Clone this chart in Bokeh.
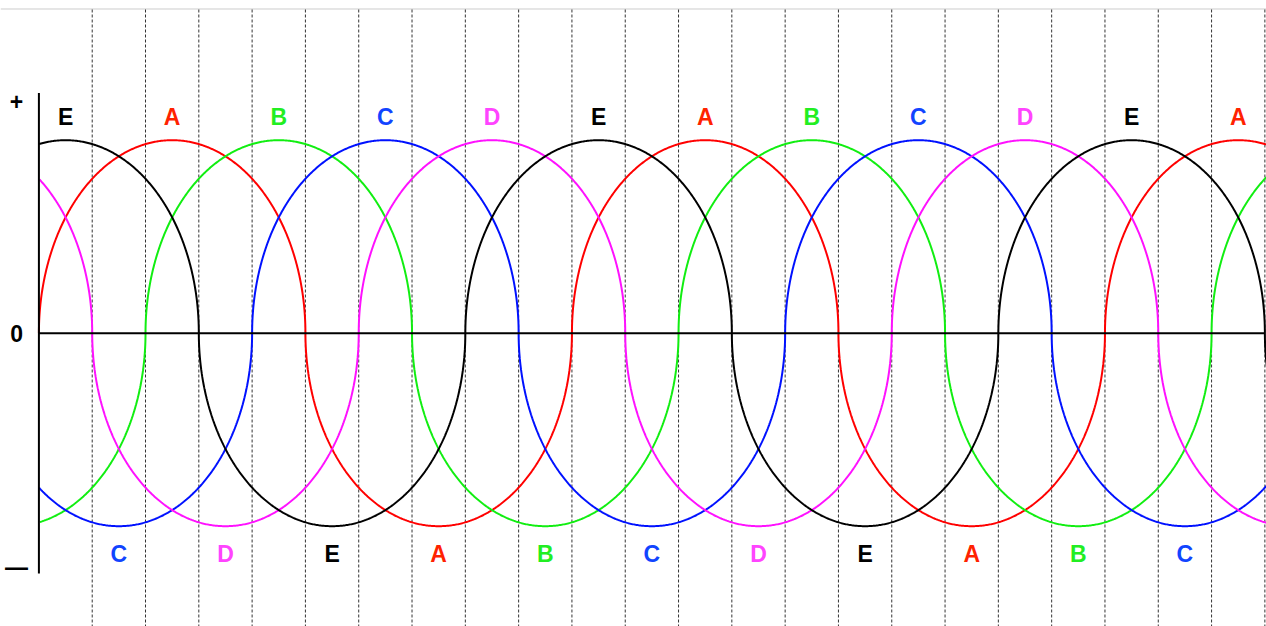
import numpy as np
from bokeh.plotting import figure
from bokeh.models import ColumnDataSource
from bokeh.core.properties import value
from bokeh.embed import file_html
from bokeh.resources import INLINE

# ---- data ----
phase_names = ["A", "B", "C", "D", "E"]
phase_shift_deg = [0, 72, 144, 216, 288]          # rising zero crossing of each phase
curve_colors = ["#ff0000", "#11ee11", "#0011ff", "#ff11ff", "#000000"]
label_colors = {"A": "#ff2200", "B": "#22ee22", "C": "#1144ff", "D": "#ff44ff", "E": "#000000"}

top_labels = ["E", "A", "B", "C", "D", "E", "A", "B", "C", "D", "E", "A"]
top_label_x = [18, 90, 162, 234, 306, 378, 450, 522, 594, 666, 738, 810]
bottom_labels = ["C", "D", "E", "A", "B", "C", "D", "E", "A", "B", "C"]
bottom_label_x = [54, 126, 198, 270, 342, 414, 486, 558, 630, 702, 774]
grid_x = [36 * k for k in range(1, 24)]
y_tick_labels = ["+", "0", "—"]
y_tick_values = [1.2, 0.0, -1.209]

X0, X1 = -25.94, 829.1
Y0, Y1 = -1.5197, 1.7238

p = figure(width=1266, height=626, x_range=(X0, X1), y_range=(Y0, Y1),
           output_backend="svg", toolbar_location=None, min_border=0)
p.axis.visible = False
p.grid.visible = False
p.outline_line_color = None
p.background_fill_color = "white"

# top light border
p.segment(x0=[X0], y0=[1.6798], x1=[X1], y1=[1.6798], line_color="#cccccc", line_width=1)

# dashed verticals
p.segment(x0=grid_x, y0=[1.6772] * len(grid_x), x1=grid_x, y1=[Y0] * len(grid_x),
          line_color="#333333", line_width=1, line_dash="3 2")

# waveforms: each half cycle is a half-ellipse
t = np.linspace(0, np.pi, 400)
for name, shift, col in zip(phase_names, phase_shift_deg, curve_colors):
    xs, ys = [], []
    start = shift - 720
    k = 0
    while start < X1 + 180:
        sgn = 1 if k % 2 == 0 else -1
        xs.append(start + 90 * (1 - np.cos(t)))
        ys.append(sgn * np.sin(t))
        start += 180
        k += 1
    xx = np.concatenate(xs)
    yy = np.concatenate(ys)
    m = (xx >= 0) & (xx <= 832)
    p.line(xx[m], yy[m], line_color=col, line_width=2)

# zero line and left axis line
p.segment(x0=[0], y0=[0], x1=[828], y1=[0], line_color="black", line_width=2)
p.segment(x0=[0], y0=[1.245], x1=[0], y1=[-1.245], line_color="black", line_width=2)

# labels
top_src = ColumnDataSource(dict(x=top_label_x, y=[1.1176] * len(top_label_x), t=top_labels,
                                c=[label_colors[s] for s in top_labels]))
bot_src = ColumnDataSource(dict(x=bottom_label_x, y=[-1.1466] * len(bottom_label_x), t=bottom_labels,
                                c=[label_colors[s] for s in bottom_labels]))
for src in (top_src, bot_src):
    p.text(x="x", y="y", text="t", text_color="c", source=src, text_align="center",
           text_baseline="middle", text_font=value("Liberation Sans"),
           text_font_style="bold", text_font_size="23px")

p.text(x=[-15.1] * 3, y=y_tick_values, text=y_tick_labels, text_color="black",
       text_align="center", text_baseline="middle", text_font=value("Liberation Sans"),
       text_font_style="bold", text_font_size="23px")

open("out.html", "w").write(file_html(p, INLINE))
